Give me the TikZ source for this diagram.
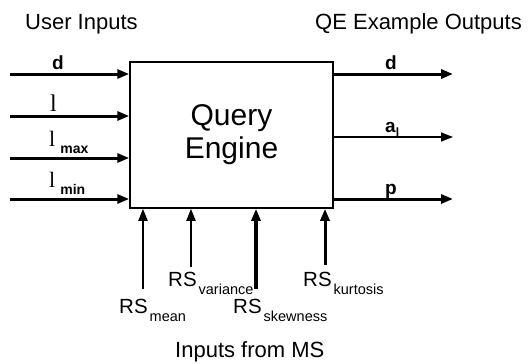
\documentclass[tikz,border=0pt]{standalone}
\usepackage{fontspec}
\setmainfont{Liberation Sans}
\newfontfamily\lamfont{Liberation Serif}
\usetikzlibrary{positioning,arrows.meta}

\newcommand{\lsub}[1]{{\lamfont\fontsize{22}{22}\selectfont l}\hspace{5pt}\raisebox{-7pt}{\fontsize{14}{14}\selectfont\bfseries #1}}
\newcommand{\rssub}[1]{RS\hspace{2pt}\raisebox{-8pt}{\fontsize{14.5}{14.5}\selectfont #1}}

\begin{document}
\begin{tikzpicture}[x=1pt, y=-1pt, >={Triangle[length=12pt,width=9pt]}]
  \tikzstyle{engine} = [rectangle, draw, line width=1.5pt, minimum width=203pt, minimum height=146pt, align=center, font=\fontsize{30}{33}\selectfont]
  \tikzstyle{flow} = [->, line width=3pt]
  \tikzstyle{thinflow} = [->, line width=1.5pt]
  \tikzstyle{lbl} = [inner sep=0pt, font=\fontsize{19}{19}\selectfont\bfseries]
  \tikzstyle{rs} = [inner sep=0pt, anchor=base west, font=\fontsize{20.5}{20.5}\selectfont]
  \tikzstyle{heading} = [inner sep=0pt, anchor=base west, font=\fontsize{22}{22}\selectfont]

  \useasboundingbox (0,0) rectangle (530,364);

  \node[engine] (qe) at (231.5,135) {Query\\Engine};

  % headings
  \node[heading] (userin) at (25,29) {User Inputs};
  \node[heading] (qeout) at (315,29) {QE Example Outputs};
  \node[heading] (msin) at (175,357) {Inputs from MS};

  % user inputs
  \coordinate (in_d) at (10,74);
  \coordinate (in_l) at (10,116);
  \coordinate (in_lmax) at (10,158);
  \coordinate (in_lmin) at (10,199);
  \draw[flow] (in_d) -- (in_d -| qe.west);
  \draw[flow] (in_l) -- (in_l -| qe.west);
  \draw[flow] (in_lmax) -- (in_lmax -| qe.west);
  \draw[flow] (in_lmin) -- (in_lmin -| qe.west);
  \node[lbl, anchor=base west] (lbl_d) at (52,69) {d};
  \node[inner sep=0pt, anchor=base west, font=\lamfont\fontsize{24}{24}\selectfont] (lbl_l) at (50,111) {l};
  \node[inner sep=0pt, anchor=base west] (lbl_lmax) at (49,146) {\lsub{max}};
  \node[inner sep=0pt, anchor=base west] (lbl_lmin) at (49,187) {\lsub{min}};

  % outputs
  \coordinate (out_d) at (453,74);
  \coordinate (out_a) at (453,137);
  \coordinate (out_p) at (453,199);
  \draw[flow] (out_d -| qe.east) -- (out_d);
  \draw[thinflow] (out_a -| qe.east) -- (out_a);
  \draw[flow] (out_p -| qe.east) -- (out_p);
  \node[lbl, anchor=base west] (lbl_od) at (385,69) {d};
  \node[lbl, anchor=base west] (lbl_oa) at (385,132) {a\raisebox{-4pt}{\fontsize{12}{12}\selectfont l}};
  \node[lbl, anchor=base west] (lbl_op) at (385,194) {p};

  % inputs from MS
  \coordinate (ms_mean) at (143,289);
  \coordinate (ms_var) at (191,267);
  \coordinate (ms_skew) at (256,289);
  \coordinate (ms_kurt) at (325,265);
  \draw[->, line width=2pt] (ms_mean) -- (ms_mean |- qe.south);
  \draw[->, line width=2pt] (ms_var) -- (ms_var |- qe.south);
  \draw[->, line width=3.5pt] (ms_skew) -- (ms_skew |- qe.south);
  \draw[->, line width=3pt] (ms_kurt) -- (ms_kurt |- qe.south);
  \node[rs] (rs_mean) at (119,313) {\rssub{mean}};
  \node[rs] (rs_var) at (168,286) {\rssub{variance}};
  \node[rs] (rs_skew) at (233,313) {\rssub{skewness}};
  \node[rs] (rs_kurt) at (303,286) {\rssub{kurtosis}};
\end{tikzpicture}
\end{document}
